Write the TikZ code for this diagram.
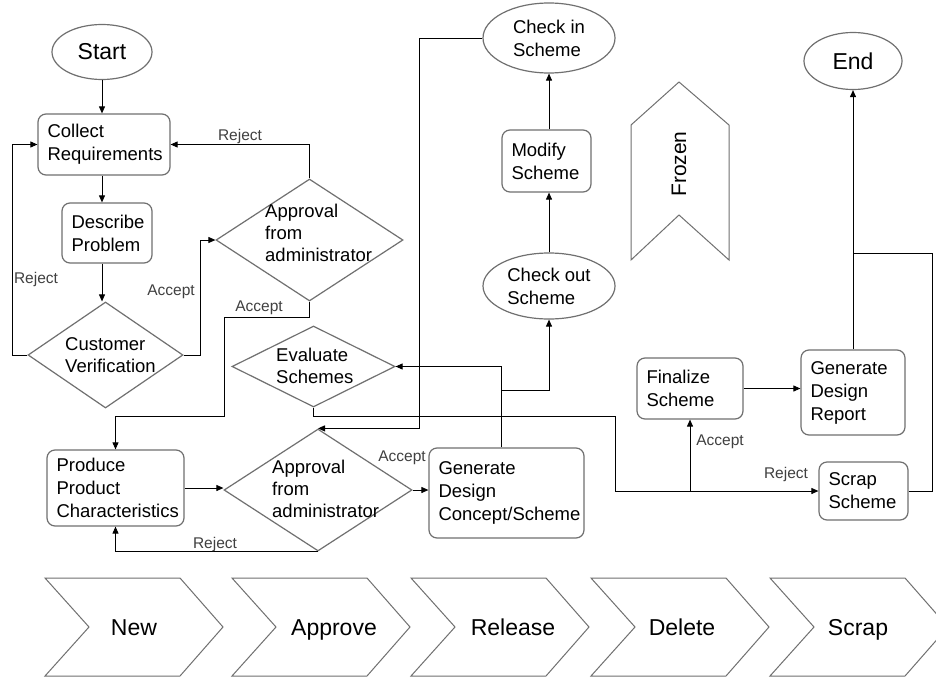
\documentclass[tikz,border=0pt]{standalone}
\usepackage{fontspec}
\setmainfont{Liberation Sans}
\usetikzlibrary{shapes.geometric,arrows.meta,calc}

\definecolor{edgegray}{HTML}{707070}
\definecolor{labelgray}{HTML}{404040}

\tikzset{
  shapeline/.style={draw=edgegray, line width=1.2pt},
  procbox/.style={shapeline, rectangle, rounded corners=8pt, inner xsep=9.5pt,
    inner ysep=3pt, align=left, font=\fontsize{18.5}{23}\selectfont},
  termellipse/.style={shapeline, ellipse, inner sep=0pt, align=left,
    font=\fontsize{18.5}{23}\selectfont},
  decision/.style={shapeline, diamond, inner sep=0pt},
  dtext/.style={align=left, anchor=west, inner sep=0pt, font=\fontsize{18.5}{22}\selectfont},
  flow/.style={draw=black, line width=0.9pt, -{Triangle[length=7pt,width=6pt]}},
  plainflow/.style={draw=black, line width=0.9pt},
  choice/.style={text=labelgray, inner sep=0pt, font=\fontsize{15.5}{18}\selectfont},
  phase/.style={shapeline, line width=1pt, line join=miter},
  phasetext/.style={inner sep=0pt, anchor=base, font=\fontsize{23}{27}\selectfont},
}

\begin{document}
\begin{tikzpicture}[x=1pt, y=-1pt]
  \fill[white] (0,0) rectangle (936,677);
  \useasboundingbox (0,0) rectangle (936,677);

  % ---------- terminals ----------
  \node[termellipse, minimum width=100pt, minimum height=55pt,
        font=\fontsize{23}{27}\selectfont] (start) at (102,52) {Start};
  \node[termellipse, minimum width=98pt, minimum height=57pt,
        font=\fontsize{23}{27}\selectfont] (end) at (853,61) {End};
  \node[termellipse, minimum width=132pt, minimum height=70pt] (checkin) at (549,38) {Check in\\Scheme};
  \node[termellipse, minimum width=132pt, minimum height=66pt] (checkout) at (549,286) {Check out\\Scheme};

  % ---------- process boxes ----------
  \node[procbox, text width=113pt, minimum height=61pt] (collect) at (104,144.5) {Collect\\Requirements};
  \node[procbox, text width=71pt, minimum height=60pt] (describe) at (107,233) {Describe\\Problem};
  \node[procbox, text width=118pt, minimum height=76pt] (produce) at (115.5,488) {Produce\\Product\\Characteristics};
  \node[procbox, text width=136pt, minimum height=90pt] (gen) at (506.5,493) {Generate\\Design\\Concept/Scheme};
  \node[procbox, text width=70pt, minimum height=62pt] (modify) at (546.5,161) {Modify\\Scheme};
  \node[procbox, text width=87pt, minimum height=61pt] (fin) at (690,388.5) {Finalize\\Scheme};
  \node[procbox, text width=85pt, minimum height=85pt] (gdr) at (853,392.5) {Generate\\Design\\Report};
  \node[procbox, text width=70pt, minimum height=58pt] (scrap) at (863.5,491) {Scrap\\Scheme};

  % ---------- decisions ----------
  \node[decision, minimum width=187pt, minimum height=122pt] (a1) at (309.5,240) {};
  \node[dtext] (a1t) at (265,233) {Approval\\from\\administrator};
  \node[decision, minimum width=155pt, minimum height=106pt] (cv) at (105.5,355) {};
  \node[dtext] (cvt) at (65,355) {Customer\\Verification};
  \node[decision, minimum width=163pt, minimum height=81pt] (ev) at (313.5,366.5) {};
  \node[dtext] (evt) at (276,366) {Evaluate\\Schemes};
  \node[decision, minimum width=188pt, minimum height=122pt] (a2) at (318,490) {};
  \node[dtext] (a2t) at (272,489) {Approval\\from\\administrator};

  % ---------- connectors ----------
  \draw[flow] (start.south) -- (start.south |- collect.north);
  \draw[flow] (collect.south -| start.south) -- (describe.north -| start.south);
  \draw[flow] (describe.south -| start.south) -- (cv.north -| start.south);
  \draw[flow] (cv.west) -- ++(-15,0) |- (collect.west);
  \draw[flow] (cv.east) -- ++(17,0) |- (a1.west);
  \draw[flow] (a1.north) |- (collect.east);
  \draw[flow] (a1.south) -- ++(0,16) -- ++(-85.5,0) -- ++(0,99) -| (produce.north);
  \draw[flow] (produce.east) -- (produce.east -| a2.west);
  \draw[flow] (a2.south) -| (produce.south);
  \draw[flow] (a2.east) -- (a2.east -| gen.west);
  \draw[flow] (checkin.west) -- ++(-63,0) |- (a2.north);
  \draw[flow] ($(gen.north)+(-5,0)$) |- (ev.east);
  \draw[flow] ($(gen.north)+(-5,-57)$) -| (checkout.south);
  \draw[flow] (checkout.north) -- (checkout.north |- modify.south);
  \draw[flow] (modify.north -| checkout.north) -- (checkin.south);
  \draw[flow] (ev.south) |- (615,416) |- (scrap.west);
  \coordinate (split) at (fin.south |- scrap.west);
  \draw[flow] (split) -- (fin.south);
  \draw[flow] (fin.east) -- (fin.east -| gdr.west);
  \draw[flow] (gdr.north) -- (gdr.north |- end.south);
  \draw[plainflow] (scrap.east) -- ++(24,0) -- ++(0,-238) -| (gdr.north);

  % ---------- branch labels ----------
  \node[choice] (l1) at (36,279) {Reject};
  \node[choice] (l2) at (171,292) {Accept};
  \node[choice] (l3) at (240,136) {Reject};
  \node[choice] (l4) at (259,308) {Accept};
  \node[choice] (l5) at (215,544) {Reject};
  \node[choice] (l6) at (402,458) {Accept};
  \node[choice] (l7) at (720,442) {Accept};
  \node[choice] (l8) at (786,474) {Reject};

  % ---------- frozen marker ----------
  \draw[phase] (631,125) -- (679,82) -- (729,125) -- (729,260) -- (679,215) -- (631,260) -- cycle;
  \node[inner sep=0pt, rotate=90, font=\fontsize{21}{25}\selectfont] (frozen) at (679,164) {Frozen};

  % ---------- lifecycle chevrons ----------
  \foreach \L/\tx/\name/\word in {45/134/pnew/New, 232/334/papprove/Approve,
      411/513/prelease/Release, 591/682/pdelete/Delete, 770/858/pscrap/Scrap}{
    \draw[phase] (\L,578) -- ++(135,0) -- ++(43,49) -- ++(-43,49) -- ++(-135,0) -- ++(44,-49) -- cycle;
    \node[phasetext] (\name) at (\tx,635) {\word};
  }
\end{tikzpicture}
\end{document}
